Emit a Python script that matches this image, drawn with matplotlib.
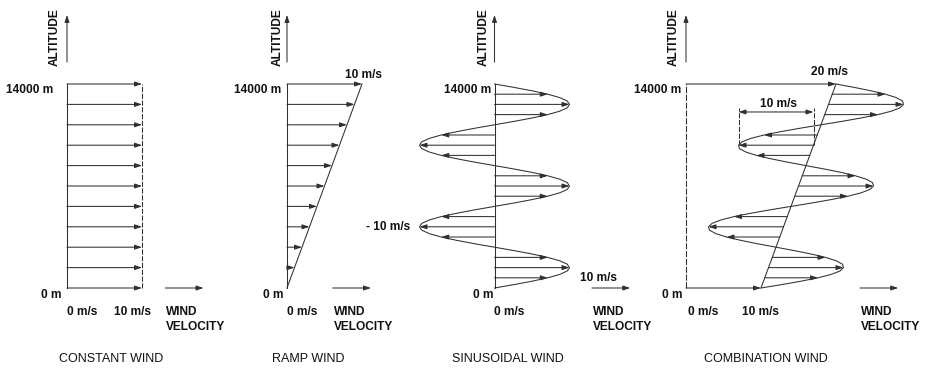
import numpy as np
import matplotlib
matplotlib.use("Agg")
import matplotlib.pyplot as plt
from matplotlib.transforms import Affine2D

plt.rcParams["font.family"] = ["Liberation Sans", "DejaVu Sans"]

# --- data (speed in m/s, altitude in m) ---
levels = [0, 1400, 2800, 4200, 5600, 7000, 8400, 9800, 11200, 12600, 14000]
constant_speed = [10, 10, 10, 10, 10, 10, 10, 10, 10, 10, 10]
ramp_speed = [0, 1, 2, 3, 4, 5, 6, 7, 8, 9, 10]

# one half-cycle of the sinusoid, sampled every 1/12 of a lobe
half_lobe = [0, 2.6, 5.0, 7.1, 8.7, 9.7, 10, 9.7, 8.7, 7.1, 5.0, 2.6]
lobe_signs = [1, -1, 1, -1, 1]          # bottom lobe first
sine_arrow_alt = [700, 1400, 2100, 3500, 4200, 4900, 6300, 7000, 7700,
                  9100, 9800, 10500, 11900, 12600, 13300]
sine_arrow_speed = [7.1, 10, 7.1, -7.1, -10, -7.1, 7.1, 10, 7.1,
                    -7.1, -10, -7.1, 7.1, 10, 7.1]

combo_ramp_alt = [0, 14000]
combo_ramp_speed = [10, 20]
dim_span = [7, 17]      # the "10 m/s" amplitude marker
dim_alt = 12080
dim_base_alt = 9800

sine_speed = [s * v for s in lobe_signs for v in half_lobe] + [0]
sine_alt = np.linspace(0, 14000, len(sine_speed))

# --- layout (pixels) ---
W, H = 933, 377
SX = 7.5                 # px per m/s
SY = 204 / 14000         # px per m
BASE_Y = 288             # pixel row of 0 m
LINE = "#303030"
TXT = "#111111"
FS = 8.6

fig = plt.figure(figsize=(W / 100, H / 100), dpi=100)


def panel(x0):
    ax = fig.add_axes([0, 0, 1, 1])
    ax.set_xlim(-x0 / SX, (W - x0) / SX)
    ax.set_ylim((BASE_Y - H) / SY, BASE_Y / SY)
    ax.axis("off")
    ax.patch.set_alpha(0)
    return ax


def arrow(ax, x_from, x_to, h, trans=None, lw=0.75):
    trans = trans or ax.transData
    ax.annotate("", xy=(x_to, h), xytext=(x_from, h), xycoords=trans, textcoords=trans,
                arrowprops=dict(arrowstyle="-|>,head_length=0.6,head_width=0.2",
                                mutation_scale=7, lw=lw, color=LINE,
                                shrinkA=0, shrinkB=0))


def frame(ax, alt_x, lab14_x, lab0_x, title_x, title):
    # altitude axis arrow + label
    ax.annotate("", xy=(0, 18740), xytext=(0, 15510),
                arrowprops=dict(arrowstyle="-|>,head_length=0.6,head_width=0.2",
                                mutation_scale=7, lw=0.75, color=LINE,
                                shrinkA=0, shrinkB=0))
    ax.text(alt_x, 17190, "ALTITUDE", rotation=90, ha="center", va="center",
            fontsize=FS, fontweight="bold", color=TXT)
    ax.text(lab14_x, 13620, "14000 m", ha="right", va="center",
            fontsize=FS, fontweight="bold", color=TXT)
    ax.text(lab0_x, -480, "0 m", ha="right", va="center",
            fontsize=FS, fontweight="bold", color=TXT)
    ax.text(title_x, -4870, title, ha="center", va="center",
            fontsize=9, color=TXT)


def velocity_key(ax, x_start):
    arrow(ax, x_start, x_start + 5.1, 0)
    ax.text(x_start + 0.1, -1680, "WIND", ha="left", va="center",
            fontsize=FS, fontweight="bold", color=TXT)
    ax.text(x_start + 0.1, -2710, "VELOCITY", ha="left", va="center",
            fontsize=FS, fontweight="bold", color=TXT)


# --- constant wind ---
ax1 = panel(67)
frame(ax1, -1.6, -1.87, -0.67, 5.9, "CONSTANT WIND")
ax1.plot([0, 0], [0, 14000], color=LINE, lw=0.75)
ax1.plot([10, 10], [0, 14000], color=LINE, lw=0.75, ls=(0, (5, 1.5)))
for h, v in zip(levels, constant_speed):
    arrow(ax1, 0, v, h)
ax1.text(0, -1680, "0 m/s", ha="left", va="center", fontsize=FS, fontweight="bold", color=TXT)
ax1.text(8.7, -1680, "10 m/s", ha="center", va="center", fontsize=FS, fontweight="bold", color=TXT)
velocity_key(ax1, 13.1)

# --- ramp wind ---
ax2 = panel(287)
frame(ax2, -1.2, -0.8, -0.53, 2.8, "RAMP WIND")
ax2.plot([0, 0], [0, 14000], color=LINE, lw=0.75)
ax2.plot(ramp_speed, levels, color=LINE, lw=0.75)
for h, v in zip(levels, ramp_speed):
    if v > 0:
        arrow(ax2, 0, v, h)
ax2.text(0, -1680, "0 m/s", ha="left", va="center", fontsize=FS, fontweight="bold", color=TXT)
ax2.text(10.2, 14620, "10 m/s", ha="center", va="center", fontsize=FS, fontweight="bold", color=TXT)
velocity_key(ax2, 6.1)

# --- sinusoidal wind ---
ax3 = panel(494.5)
frame(ax3, -1.4, -0.47, -0.15, 1.8, "SINUSOIDAL WIND")
ax3.plot([0, 0], [0, 14000], color=LINE, lw=0.75)
ax3.plot(sine_speed, sine_alt, color=LINE, lw=0.75)
for h, v in zip(sine_arrow_alt, sine_arrow_speed):
    arrow(ax3, 0, v, h)
ax3.text(0, -1680, "0 m/s", ha="left", va="center", fontsize=FS, fontweight="bold", color=TXT)
ax3.text(-11.3, 4190, "- 10 m/s", ha="right", va="center", fontsize=FS, fontweight="bold", color=TXT)
ax3.text(13.9, 690, "10 m/s", ha="center", va="center", fontsize=FS, fontweight="bold", color=TXT)
velocity_key(ax3, 13.0)

# --- combination wind: sinusoid sheared onto the ramp ---
ax4 = panel(686)
frame(ax4, -1.7, -0.67, -0.4, 10.7, "COMBINATION WIND")
shear = Affine2D().from_values(1, 0, (combo_ramp_speed[1] - combo_ramp_speed[0]) / 14000, 1,
                               combo_ramp_speed[0], 0) + ax4.transData
ax4.plot([0, 0], [0, 14000], color=LINE, lw=0.75, ls=(0, (6, 1.5)))
ax4.plot(combo_ramp_speed, combo_ramp_alt, color=LINE, lw=0.75)
arrow(ax4, 0, combo_ramp_speed[0], combo_ramp_alt[0])
arrow(ax4, 0, combo_ramp_speed[1], combo_ramp_alt[1])
ax4.plot(sine_speed, sine_alt, color=LINE, lw=0.75, transform=shear)
for h, v in zip(sine_arrow_alt, sine_arrow_speed):
    arrow(ax4, 0, v, h, trans=shear)
# amplitude marker
ax4.plot([dim_span[0]] * 2, [dim_base_alt, dim_alt + 250], color=LINE, lw=0.75, ls=(0, (5, 1.5)))
ax4.plot([dim_span[1]] * 2, [dim_base_alt, dim_alt + 250], color=LINE, lw=0.75, ls=(0, (5, 1.5)))
mid = sum(dim_span) / 2
arrow(ax4, mid, dim_span[0], dim_alt)
arrow(ax4, mid, dim_span[1], dim_alt)
ax4.text(12.3, 12630, "10 m/s", ha="center", va="center", fontsize=FS, fontweight="bold", color=TXT)
ax4.text(19.1, 14820, "20 m/s", ha="center", va="center", fontsize=FS, fontweight="bold", color=TXT)
ax4.text(0.3, -1680, "0 m/s", ha="left", va="center", fontsize=FS, fontweight="bold", color=TXT)
ax4.text(9.9, -1680, "10 m/s", ha="center", va="center", fontsize=FS, fontweight="bold", color=TXT)
velocity_key(ax4, 23.2)

fig.savefig("out.png", dpi=100, facecolor="white")
